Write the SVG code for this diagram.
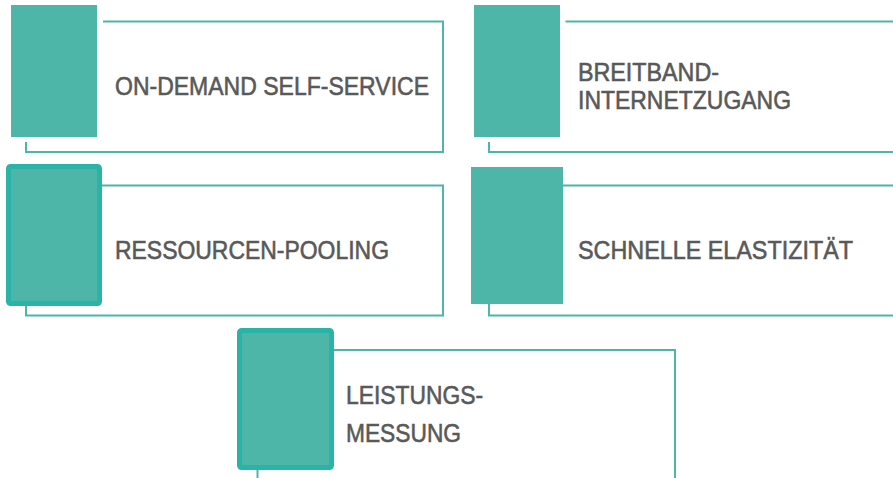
<svg xmlns="http://www.w3.org/2000/svg" width="893" height="478" viewBox="0 0 893 478">
<style>
.frame{fill:none;stroke:#4DB6A8;stroke-width:2}
.blk{fill:#4DB6A8}
.blkb{fill:#4DB6A8;stroke:#2AB3A7;stroke-width:5}
.gap{fill:#FFFFFF}
.t{font-family:"Liberation Sans",Arial,sans-serif;font-size:26px;fill:#595959;stroke:#595959;stroke-width:0.6}
</style>
<rect width="893" height="478" fill="#FFFFFF"/>
<g id="node-ondemand">
<rect class="frame" x="26" y="21.5" width="417" height="130.5"/>
<rect class="gap" x="5" y="0" width="98" height="142"/>
<rect class="blk" x="11" y="5" width="86" height="132"/>
<text class="t" x="115" y="95" textLength="314" lengthAdjust="spacingAndGlyphs">ON-DEMAND SELF-SERVICE</text>
</g>
<g id="node-breitband">
<rect class="frame" x="489" y="21.5" width="420" height="130.5"/>
<rect class="gap" x="468" y="0" width="97.5" height="142"/>
<rect class="blk" x="474" y="5" width="86" height="132"/>
<text class="t" x="578" y="81" textLength="141" lengthAdjust="spacingAndGlyphs">BREITBAND-</text>
<text class="t" x="578" y="109" textLength="213" lengthAdjust="spacingAndGlyphs">INTERNETZUGANG</text>
</g>
<g id="node-pooling">
<rect class="frame" x="26" y="185.5" width="417" height="130"/>
<rect class="blkb" x="8.5" y="166.5" width="91" height="137" rx="2"/>
<text class="t" x="115" y="259" textLength="274" lengthAdjust="spacingAndGlyphs">RESSOURCEN-POOLING</text>
</g>
<g id="node-elastizitaet">
<rect class="frame" x="489" y="185.5" width="420" height="130"/>
<rect class="blk" x="471" y="167" width="92" height="137"/>
<text class="t" x="578" y="259" textLength="275" lengthAdjust="spacingAndGlyphs">SCHNELLE ELASTIZITÄT</text>
</g>
<g id="node-messung">
<rect class="frame" x="257.5" y="350" width="417.5" height="150"/>
<rect class="blkb" x="239.5" y="330.5" width="92" height="137" rx="2"/>
<text class="t" x="346" y="403.5" textLength="137" lengthAdjust="spacingAndGlyphs">LEISTUNGS-</text>
<text class="t" x="346" y="441.5" textLength="115" lengthAdjust="spacingAndGlyphs">MESSUNG</text>
</g>
<g id="connectors"></g>
</svg>
